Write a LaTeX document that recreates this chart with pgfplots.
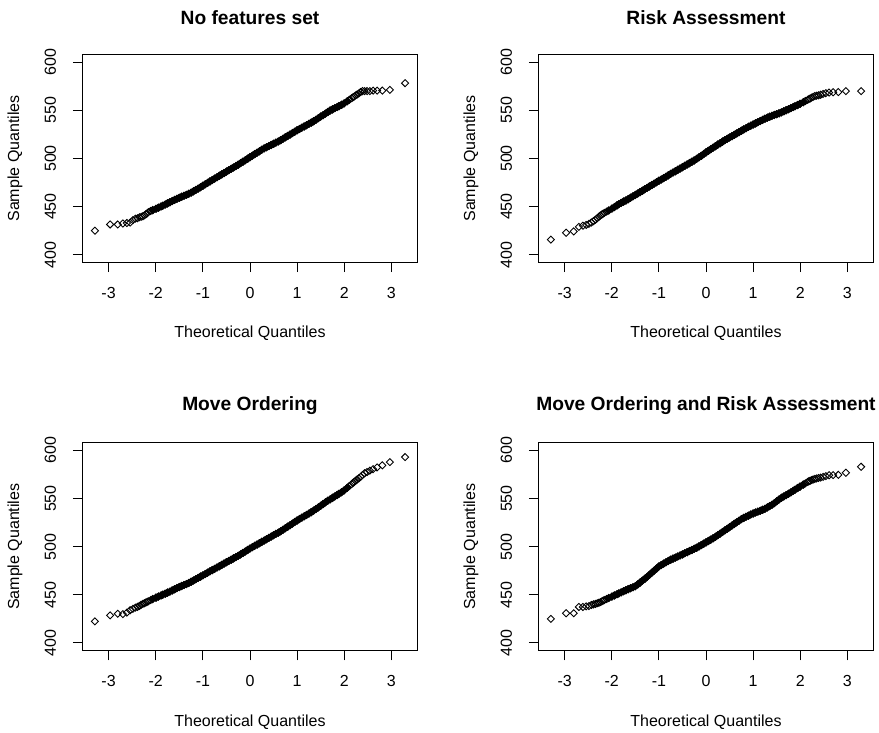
\documentclass[border=0pt]{standalone}
\usepackage{pgfplots}
\usepackage{pgfplotstable}
\pgfplotsset{compat=1.18}
\usepackage{fontspec}
\setmainfont{Liberation Sans}

\pgfplotstableread{
x a b c d
-3.291 425.0 415.8 422.5 425.0
-2.968 431.5 422.9 428.7 430.9
-2.807 431.5 424.3 430.4 430.9
-2.697 432.5 429.0 430.0 437.4
-2.612 433.0 430.2 431.5 437.4
-2.543 433.5 431.0 434.0 438.0
-2.484 436.0 432.2 435.5 438.4
-2.432 437.5 433.5 436.7 439.5
-2.387 438.0 435.0 437.5 440.1
-2.346 439.0 436.5 438.5 440.6
-2.308 439.5 438.0 439.8 441.2
-2.273 440.0 439.5 440.6 441.8
-2.241 441.0 440.8 441.3 442.5
-2.211 442.0 441.8 442.0 443.2
-2.183 443.0 442.7 442.7 444.0
-2.157 444.3 443.5 443.3 444.6
-2.108 445.5 444.8 444.6 445.7
-2.064 446.4 446.0 445.6 446.7
-1.995 447.8 448.0 447.1 448.2
-1.943 448.9 449.6 448.2 449.4
-1.888 450.2 451.3 449.4 450.6
-1.85 451.0 452.5 450.2 451.5
-1.80 452.2 453.9 451.2 452.6
-1.75 453.4 455.2 452.3 453.7
-1.70 454.6 456.4 453.3 454.8
-1.65 455.8 457.8 454.6 455.9
-1.60 457.0 459.3 455.8 456.9
-1.55 458.1 460.7 457.0 457.9
-1.50 459.2 462.2 458.1 459.0
-1.45 460.3 463.6 459.2 460.8
-1.40 461.3 465.1 460.2 462.7
-1.35 462.3 466.5 461.2 464.7
-1.30 463.4 468.0 462.3 466.6
-1.25 464.6 469.5 463.6 468.7
-1.20 465.9 471.0 464.9 470.8
-1.15 467.3 472.4 466.2 473.0
-1.10 468.7 473.9 467.6 475.2
-1.05 470.2 475.4 468.9 477.3
-1.00 471.7 476.9 470.3 479.5
-0.95 473.2 478.2 471.7 481.0
-0.90 474.7 479.6 473.0 482.4
-0.85 476.2 481.0 474.4 483.8
-0.80 477.7 482.5 475.7 485.2
-0.75 479.1 484.0 477.0 486.5
-0.70 480.6 485.4 478.4 487.6
-0.65 482.1 486.8 479.7 488.7
-0.60 483.5 488.2 481.1 489.8
-0.55 484.9 489.6 482.5 490.9
-0.50 486.4 491.0 483.9 492.0
-0.45 487.8 492.4 485.2 493.2
-0.40 489.3 493.8 486.5 494.3
-0.35 490.7 495.2 487.9 495.5
-0.30 492.1 496.6 489.2 496.6
-0.25 493.6 498.0 490.6 497.8
-0.20 495.2 499.6 492.0 498.9
-0.15 496.7 501.2 493.5 500.3
-0.10 498.3 502.8 495.0 501.7
-0.05 499.8 504.6 496.6 503.1
0.00 501.4 506.4 498.2 504.5
0.05 502.9 508.0 499.6 505.9
0.10 504.5 509.6 500.9 507.3
0.15 506.0 511.2 502.2 508.7
0.20 507.5 512.8 503.6 510.3
0.25 509.1 514.4 505.0 511.9
0.30 510.5 515.9 506.4 513.6
0.35 511.7 517.5 507.8 515.3
0.40 512.9 519.0 509.2 517.0
0.45 514.1 520.4 510.5 518.6
0.50 515.3 521.8 511.9 520.3
0.55 516.5 523.2 513.3 522.0
0.60 517.7 524.6 514.6 523.7
0.65 519.0 526.0 516.0 525.3
0.70 520.5 527.4 517.6 527.0
0.75 522.0 528.8 519.2 528.6
0.80 523.4 530.2 520.8 529.9
0.85 524.9 531.5 522.4 531.1
0.90 526.4 532.9 524.0 532.2
0.95 527.8 534.1 525.6 533.4
1.00 529.3 535.3 527.2 534.5
1.05 530.6 536.5 528.7 535.5
1.10 532.0 537.7 530.2 536.4
1.15 533.3 538.9 531.6 537.3
1.20 534.6 540.1 533.0 538.3
1.25 536.0 541.3 534.4 539.4
1.30 537.3 542.4 535.9 540.8
1.35 538.7 543.4 537.5 542.1
1.40 540.3 544.3 539.1 543.5
1.45 541.9 545.2 540.8 545.3
1.50 543.5 546.0 542.5 547.2
1.55 545.0 546.9 544.3 549.0
1.60 546.6 547.9 546.1 550.8
1.65 548.2 549.0 547.7 552.2
1.70 549.8 550.1 549.1 553.6
1.75 551.0 551.2 550.7 555.0
1.80 552.3 552.3 552.2 556.4
1.85 553.5 553.4 553.8 558.1
1.888 554.4 554.3 554.9 559.2
1.943 555.8 555.5 556.6 560.9
1.995 557.2 556.8 558.4 562.4
2.064 559.5 558.5 561.2 564.5
2.108 561.0 559.7 563.0 565.8
2.157 562.6 561.0 565.1 567.2
2.183 563.5 561.7 566.2 568.0
2.211 564.4 562.4 567.3 568.6
2.241 565.5 563.2 568.5 569.2
2.273 566.5 564.0 569.8 569.8
2.308 567.5 564.8 571.0 570.4
2.346 569.0 565.2 572.5 570.9
2.387 570.0 565.6 574.5 571.3
2.432 570.0 566.2 576.3 571.8
2.484 570.0 567.0 577.5 572.5
2.543 570.0 567.8 579.0 573.3
2.612 570.5 568.5 580.5 574.2
2.697 570.5 568.8 582.3 574.4
2.807 570.5 569.0 584.5 574.6
2.968 571.3 570.0 587.9 576.8
3.291 578.2 570.0 593.1 583.0
}\qqdata

\pgfplotsset{
  qq/.style={
    scale only axis, width=335pt, height=208pt,
    xmin=-3.554, xmax=3.554, ymin=392, ymax=608,
    xtick={-3,-2,-1,0,1,2,3}, xticklabels={-3,-2,-1,0,1,2,3},
    ytick={400,450,500,550,600}, yticklabels={400,450,500,550,600},
    tick pos=left, tick align=outside, major tick length=9.6pt,
    axis line style={line width=1pt, black},
    every tick/.style={black, line width=1pt},
    ticklabel style={font=\fontsize{16}{19}\selectfont},
    xticklabel style={anchor=center, yshift=-21pt},
    yticklabel style={xshift=-22.5pt, rotate=90, anchor=center},
    label style={font=\fontsize{16}{19}\selectfont},
    xlabel={Theoretical Quantiles},
    ylabel={Sample Quantiles},
    xlabel style={at={(axis description cs:0.5,-0.342)}, anchor=center},
    ylabel style={at={(axis description cs:-0.2015,0.5)}, anchor=center},
    title style={at={(axis description cs:0.5,1.149)}, anchor=center,
      font=\fontsize{19.2}{23}\selectfont\bfseries},
  },
  qqmarks/.style={only marks, black, mark=square, mark size=2.5pt,
    mark options={rotate=45, line width=0.9pt, fill=none}},
  qqdense/.style={only marks, black, mark=square*, mark size=2.5pt,
    restrict x to domain=-2.1:2.1,
    mark options={rotate=45, line width=0.9pt, fill=black}, forget plot},
}

\begin{document}
\begin{tikzpicture}[x=1pt,y=1pt]
\useasboundingbox (0,0) rectangle (879,732);
\begin{axis}[qq, at={(82.5pt,469.5pt)}, anchor=south west, title={No features set}]
\addplot[qqmarks] table[x=x,y=a] {\qqdata};
\addplot[qqdense] table[x=x,y=a] {\qqdata};
\end{axis}
\begin{axis}[qq, at={(538.5pt,469.5pt)}, anchor=south west, title={Risk Assessment}]
\addplot[qqmarks] table[x=x,y=b] {\qqdata};
\addplot[qqdense] table[x=x,y=b] {\qqdata};
\end{axis}
\begin{axis}[qq, at={(82.5pt,81.3pt)}, anchor=south west, title={Move Ordering}]
\addplot[qqmarks] table[x=x,y=c] {\qqdata};
\addplot[qqdense] table[x=x,y=c] {\qqdata};
\end{axis}
\begin{axis}[qq, at={(538.5pt,81.3pt)}, anchor=south west, title={Move Ordering and Risk Assessment}]
\addplot[qqmarks] table[x=x,y=d] {\qqdata};
\addplot[qqdense] table[x=x,y=d] {\qqdata};
\end{axis}
\end{tikzpicture}
\end{document}
